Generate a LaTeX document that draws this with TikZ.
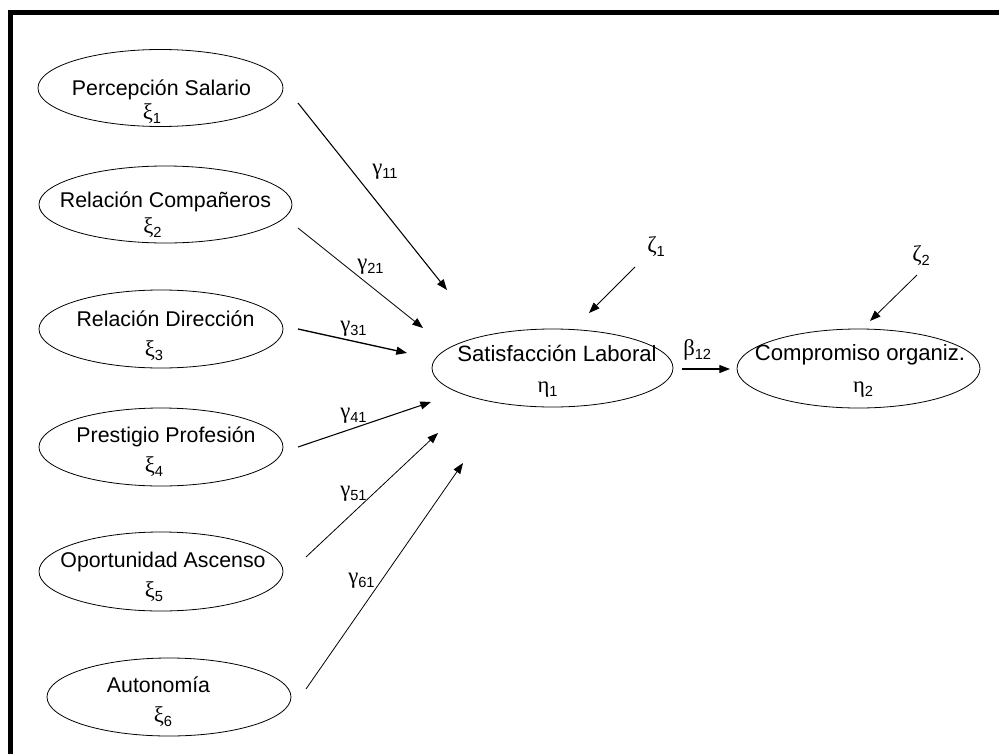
\documentclass[tikz,border=0pt]{standalone}
\usepackage{fontspec}
\setmainfont{Liberation Sans}
\newfontfamily\grkfont{Liberation Serif}
\usetikzlibrary{arrows.meta,shapes.geometric}
\newcommand\gk[2]{{\fontsize{17}{17}\selectfont\grkfont #1}\raisebox{-3pt}{\fontsize{11}{11}\selectfont #2}}
\begin{document}
\begin{tikzpicture}[x=0.75pt,y=-0.75pt,
  ell/.style={draw, ellipse, line width=0.6pt, inner sep=0pt},
  txt/.style={anchor=base, inner sep=0pt, font=\fontsize{16}{19}\selectfont},
  txtb/.style={txt, font=\fontsize{16.6}{19}\selectfont},
  lab/.style={anchor=base west, inner sep=0pt},
  arr/.style={-{Triangle[length=8pt,width=6pt]}, line width=0.6pt},
]
\useasboundingbox (0,0) rectangle (999,753);
\draw[line width=3.9pt] (10.8,760) -- (10.8,12.2) -- (1005,12.2);

% exogenous ellipses
\node[ell, minimum width=245*0.75pt, minimum height=77*0.75pt] (e1) at (160.5,88) {};
\node[ell, minimum width=253*0.75pt, minimum height=77*0.75pt] (e2) at (165.5,204.5) {};
\node[ell, minimum width=244*0.75pt, minimum height=78*0.75pt] (e3) at (161,329) {};
\node[ell, minimum width=244*0.75pt, minimum height=78*0.75pt] (e4) at (161,447) {};
\node[ell, minimum width=244*0.75pt, minimum height=79*0.75pt] (e5) at (161,571.5) {};
\node[ell, minimum width=244*0.75pt, minimum height=78*0.75pt] (e6) at (169,697) {};
% endogenous ellipses
\node[ell, minimum width=241*0.75pt, minimum height=78*0.75pt] (sat) at (552.5,368) {};
\node[ell, minimum width=243*0.75pt, minimum height=79*0.75pt] (comp) at (858.5,368.5) {};

% texts
\node[txt] (e1a) at (161.5,95) {Percepción Salario};
\node[txt] (e1b) at (152,119) {\gk{ξ}{1}};
\node[txt] (e2a) at (165.5,207) {Relación Compañeros};
\node[txt] (e2b) at (152.5,233) {\gk{ξ}{2}};
\node[txt] (e3a) at (165.5,326) {Relación Dirección};
\node[txt] (e3b) at (154,356) {\gk{ξ}{3}};
\node[txt] (e4a) at (166,442) {Prestigio Profesión};
\node[txt] (e4b) at (154,472) {\gk{ξ}{4}};
\node[txt] (e5a) at (163,567) {Oportunidad Ascenso};
\node[txt] (e5b) at (154,597) {\gk{ξ}{5}};
\node[txt] (e6a) at (158.5,692) {Autonomía};
\node[txt] (e6b) at (163,722) {\gk{ξ}{6}};
\node[txtb] (sata) at (557,361) {Satisfacción Laboral};
\node[txt] (satb) at (547.5,392) {\gk{η}{1}};
\node[txtb] (compa) at (860,360) {Compromiso organiz.};
\node[txt] (compb) at (863,392) {\gk{η}{2}};

% arrow end points
\coordinate (t11) at (298,103); \coordinate (h11) at (447,290);
\coordinate (t21) at (298,228); \coordinate (h21) at (423,328);
\coordinate (t31) at (298,329); \coordinate (h31) at (407,353);
\coordinate (t41) at (298,447); \coordinate (h41) at (431,402);
\coordinate (t51) at (306,557); \coordinate (h51) at (438,433);
\coordinate (t61) at (306,689); \coordinate (h61) at (463,463);
\coordinate (tz1) at (635,267); \coordinate (hz1) at (589,313);
\coordinate (tz2) at (917,275); \coordinate (hz2) at (870,321);
\coordinate (tb) at (682,369);  \coordinate (hb) at (730,369);

\draw[arr, line width=0.8pt] (t11) -- (h11);
\draw[arr] (t21) -- (h21);
\draw[arr, line width=1pt] (t31) -- (h31);
\draw[arr, line width=0.8pt] (t41) -- (h41);
\draw[arr] (t51) -- (h51);
\draw[arr] (t61) -- (h61);
\draw[arr] (tz1) -- (hz1);
\draw[arr] (tz2) -- (hz2);
\draw[arr, line width=0.8pt] (tb) -- (hb);

% labels
\node[lab] (g11) at (372,174) {\gk{γ}{11}};
\node[lab] (g21) at (357,269) {\gk{γ}{21}};
\node[lab] (g31) at (340,331) {\gk{γ}{31}};
\node[lab] (g41) at (340,418) {\gk{γ}{41}};
\node[lab] (g51) at (340,496) {\gk{γ}{51}};
\node[lab] (g61) at (348,583) {\gk{γ}{61}};
\node[lab] (b12) at (683,355) {\gk{β}{12}};
\node[lab] (z1) at (647,252) {\gk{ζ}{1}};
\node[lab] (z2) at (912,261) {\gk{ζ}{2}};
\end{tikzpicture}
\end{document}
